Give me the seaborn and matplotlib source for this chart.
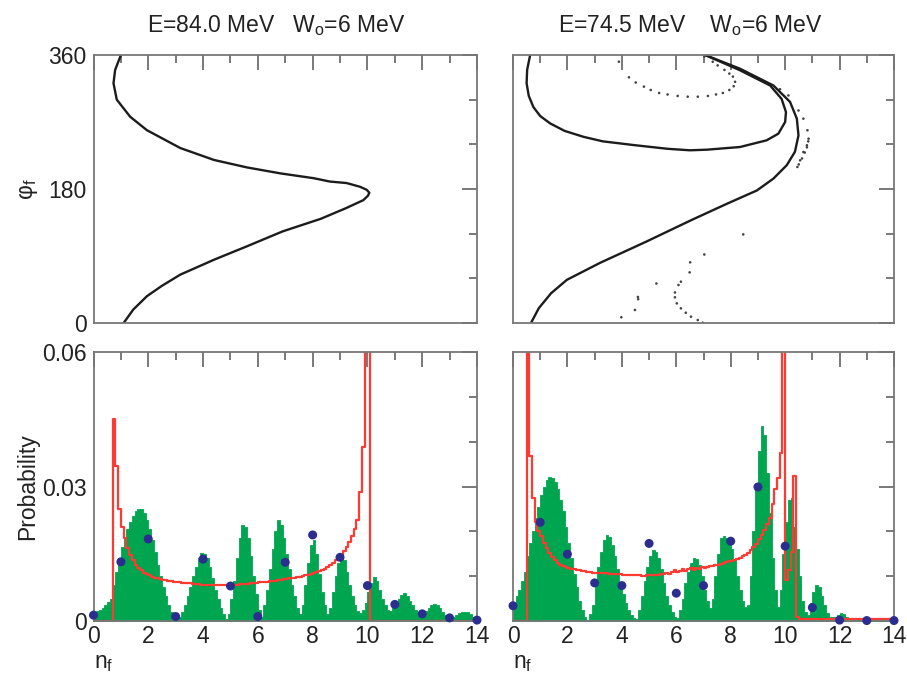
import numpy as np
import pandas as pd
import matplotlib
matplotlib.use("Agg")
import matplotlib.pyplot as plt
import seaborn as sns
from matplotlib.ticker import MultipleLocator, FixedLocator, FuncFormatter

# ---------------- data ----------------
# histogram grid (bin width 0.1 in n_f)
bin_width = 0.1
n_bins = 140

# top-left: phi_f vs n_f curve (E=84.0 MeV)
tl_phi = [0, 18, 36, 50, 65, 85, 103, 123, 140, 154, 165, 171, 175, 179, 183, 188, 190, 194.5, 201, 209, 219, 235, 259, 277, 300, 322, 340, 360]
tl_n = [1.1, 1.45, 1.95, 2.5, 3.17, 4.4, 5.6, 6.9, 8.3, 9.2, 9.85, 10.02, 10.07, 9.97, 9.73, 9.24, 8.63, 8.04, 6.82, 5.6, 4.4, 3.17, 1.95, 1.34, 0.85, 0.73, 0.79, 1.0]

# top-right: two branches (E=74.5 MeV)
tr_a_phi = [0, 20, 40, 58, 81, 109, 138, 160, 178, 194, 212, 230, 252, 274.5, 297, 319, 341.6, 360]
tr_a_n = [0.66, 0.95, 1.40, 1.98, 3.21, 4.88, 6.54, 7.85, 8.96, 9.57, 10.06, 10.36, 10.49, 10.43, 10.18, 9.57, 8.34, 7.06]
tr_b_phi = [360, 340, 322, 305, 290, 278, 268, 258, 250, 244, 239, 234, 232, 232.8, 236.4, 245.4, 254.3, 270, 283.4, 301, 319, 339.5, 360]
tr_b_n = [0.63, 0.52, 0.50, 0.58, 0.75, 1.0, 1.37, 1.9, 2.6, 3.3, 4.44, 5.68, 6.5, 7.12, 8.34, 9.32, 9.75, 10.0, 10.03, 9.87, 9.45, 8.34, 7.06]

# top-right: sparse dots
tr_dot_n = [3.89, 4.26, 4.51, 4.81, 5.06, 5.37, 5.68, 6.05, 6.42, 6.79, 7.16, 7.46, 7.71, 7.95, 8.11, 8.16, 8.08, 7.95, 7.77, 7.52, 7.34, 7.03,
            9.81, 10.12, 10.49, 10.67, 10.82, 10.86, 10.8, 10.67, 10.55, 10.45, 10.5, 10.62, 10.72, 10.8, 10.85,
            8.46,
            7.03, 6.51, 6.49, 6.17, 6.08, 5.95, 5.95, 6.02, 6.17, 6.35, 6.54, 6.79, 6.97,
            5.27, 4.59, 4.6, 4.48, 3.98]
tr_dot_phi = [351, 330, 323, 317.5, 313, 309, 307, 305, 304, 304, 305, 307, 309, 313, 318, 324, 331, 335, 340, 346, 351, 358,
              314, 305.7, 285.5, 274.5, 258.9, 247.6, 238.7, 229.7, 218.5, 209.6, 213, 221, 229, 236, 244,
              119,
              92, 81.5, 68, 55.5, 51, 41, 34.5, 26.4, 19.7, 13.8, 8.5, 4, 0.4,
              53, 35, 32, 17.5, 7.7]

# bottom-left histograms (probability per 0.1 bin, in units of 1e-3)
bl_green_milli = [
    2.0, 2.2, 2.5, 3.0, 3.5, 4.2, 5.0, 8.0, 11.0, 14.0,
    16.5, 18.5, 20.5, 22.0, 23.5, 24.5, 25.0, 25.0, 24.0, 22.5,
    20.5, 18.0, 15.5, 12.5, 10.0, 7.5, 5.5, 3.5, 2.0, 0.7,
    0.2, 0.8, 2.0, 3.5, 5.5, 7.5, 10.0, 12.0, 14.0, 15.2,
    15.0, 14.0, 12.0, 9.5, 7.0, 5.0, 3.0, 1.5, 0.5, 1.5,
    5.0, 9.0, 14.0, 18.5, 21.5, 21.0, 18.5, 14.5, 10.0, 6.0,
    2.5, 1.0, 3.5, 7.0, 11.5, 16.0, 20.0, 22.5, 21.5, 18.5,
    15.0, 11.5, 8.0, 5.5, 3.0, 1.5, 3.5, 8.0, 13.0, 17.0,
    18.0, 15.0, 10.5, 6.5, 3.5, 1.5, 3.0, 6.5, 10.0, 13.0,
    14.3, 13.5, 11.0, 8.0, 5.5, 3.5, 2.2, 1.8, 2.5, 4.0,
    6.5, 8.5, 9.8, 9.0, 7.0, 5.0, 3.5, 2.5, 2.3, 3.0,
    4.0, 5.0, 5.8, 6.2, 5.5, 4.5, 3.5, 2.5, 1.8, 1.4,
    1.5, 2.2, 3.0, 3.6, 3.8, 3.5, 2.8, 2.0, 1.4, 1.0,
    0.9, 1.0, 1.4, 1.8, 2.1, 2.1, 1.9, 1.5, 1.0, 0.5]
bl_red_milli = [
    0, 0, 0, 0, 0, 0, 0, 45, 34.5, 25,
    21, 18.5, 16.2, 14.8, 13.5, 12.5, 11.9, 11.3, 10.8, 10.5,
    10.2, 9.9, 9.7, 9.5, 9.3, 9.2, 9.1, 9.0, 8.9, 8.8,
    8.7, 8.6, 8.5, 8.5, 8.4, 8.4, 8.3, 8.2, 8.2, 8.1,
    8.1, 8.1, 8.0, 8.0, 8.0, 8.0, 8.0, 8.0, 8.0, 8.0,
    8.0, 8.1, 8.1, 8.2, 8.2, 8.3, 8.3, 8.4, 8.4, 8.5,
    8.6, 8.6, 8.7, 8.8, 8.9, 9.0, 9.0, 9.1, 9.2, 9.3,
    9.4, 9.5, 9.6, 9.7, 9.8, 9.9, 10.0, 10.2, 10.3, 10.5,
    10.7, 10.9, 11.1, 11.3, 11.6, 12.0, 12.5, 13.0, 13.6, 14.2,
    14.8, 15.6, 16.5, 17.6, 19.0, 20.5, 22.5, 28.8, 38.8, 70,
    90, 0, 0, 0, 0, 0, 0, 0, 0, 0,
    0, 0, 0, 0, 0, 0, 0, 0, 0, 0,
    0, 0, 0, 0, 0, 0, 0, 0, 0, 0,
    0, 0, 0, 0, 0, 0, 0, 0, 0, 0]
bl_dot_n = [0, 1, 2, 3, 4, 5, 6, 7, 8, 9, 10, 11, 12, 13, 14]
bl_dot_p = [0.0013, 0.0132, 0.0183, 0.0010, 0.0138, 0.0078, 0.0010, 0.0131, 0.0192, 0.0142, 0.0079, 0.0037, 0.0016, 0.0007, 0.0002]

# bottom-right histograms (units of 1e-3)
br_green_milli = [
    4.0, 5.5, 7.0, 9.0, 11.0, 14.5, 17.5, 20.0, 23.0, 25.5,
    28.0, 30.0, 31.5, 32.2, 32.0, 31.0, 29.5, 27.0, 24.5, 21.0,
    17.5, 14.0, 10.5, 7.5, 4.5, 2.5, 1.0, 0.3, 1.5, 3.5,
    8.0, 12.0, 15.5, 18.0, 19.2, 18.8, 17.0, 14.5, 11.5, 8.5,
    6.0, 4.0, 2.5, 1.3, 0.6, 0.5, 2.5, 5.5, 9.0, 12.0,
    14.5, 15.8, 15.5, 14.0, 11.5, 8.5, 5.5, 3.5, 2.0, 1.0,
    0.6, 2.5, 5.0, 8.5, 11.0, 13.0, 14.0, 13.8, 12.5, 10.0,
    7.0, 4.5, 3.0, 5.0, 10.0, 15.0, 18.5, 19.0, 18.5, 17.5,
    16.0, 13.5, 10.0, 7.0, 4.5, 3.2, 3.5, 10.0, 20.0, 30.0,
    38.0, 43.5, 41.5, 33.0, 24.0, 14.0, 7.0, 3.2, 7.0, 15.0,
    22.0, 27.0, 27.5, 21.0, 16.0, 10.0, 4.5, 2.0, 1.3, 4.0,
    6.5, 8.0, 7.5, 5.5, 3.5, 1.8, 1.0, 0.8, 1.0, 1.3,
    1.7, 1.5, 1.0, 0.7, 0.5, 0.5, 0.5, 0.5, 0.5, 0.5,
    0.5, 0.5, 0.5, 0.5, 0.5, 0.5, 0.5, 0.5, 0.5, 0.5]
br_red_milli = [
    0, 0, 0, 0, 0, 80, 36.7, 27.5, 22.0, 20.0,
    19.0, 17.5, 16.2, 15.2, 14.2, 13.5, 13.0, 12.5, 12.2, 12.0,
    11.8, 11.6, 11.5, 11.4, 11.3, 11.2, 11.1, 11.0, 10.9, 10.8,
    10.8, 10.7, 10.7, 10.6, 10.6, 10.5, 10.5, 10.4, 10.4, 10.4,
    10.3, 10.3, 10.3, 10.2, 10.2, 10.2, 10.2, 10.1, 10.1, 10.2,
    10.2, 10.2, 10.3, 10.3, 10.4, 10.4, 10.6, 10.4, 11.0, 11.3,
    10.9, 11.2, 11.5, 11.2, 11.6, 11.8, 11.4, 11.8, 11.6, 12.0,
    11.8, 12.0, 12.2, 12.3, 12.5, 12.6, 12.8, 13.0, 13.1, 13.3,
    13.4, 13.6, 13.8, 14.1, 14.4, 14.8, 15.2, 15.8, 16.4, 17.2,
    18.2, 19.2, 20.3, 21.6, 23.0, 26.0, 29.5, 32.0, 37.5, 80,
    9.1, 11.4, 15.5, 32.3, 0.8, 0.5, 0.5, 0.5, 0.5, 0.5,
    0.5, 0.5, 0.5, 0.5, 0.5, 0.5, 0.5, 0.5, 0.5, 0.5,
    0.5, 0.5, 0.5, 0.5, 0.5, 0.5, 0.5, 0.5, 0.5, 0.5,
    0.5, 0.5, 0.5, 0.5, 0.5, 0.5, 0.5, 0.5, 0.5, 0.5]
br_dot_n = [0, 1, 2, 3, 4, 5, 6, 7, 8, 9, 10, 11, 12, 13, 14]
br_dot_p = [0.0034, 0.0220, 0.0149, 0.0085, 0.0079, 0.0173, 0.0062, 0.0079, 0.0178, 0.0299, 0.0167, 0.0030, 0.0002, 0.0001, 0.0001]

titles = ["E=84.0 MeV   W$_o$=6 MeV", "E=74.5 MeV    W$_o$=6 MeV"]

# ---------------- style ----------------
sns.set_style("white")
plt.rcParams["font.family"] = ["Liberation Sans", "DejaVu Sans"]
plt.rcParams["mathtext.default"] = "regular"
plt.rcParams["text.color"] = "#222222"
plt.rcParams["axes.labelcolor"] = "#222222"
plt.rcParams["xtick.color"] = "#555555"
plt.rcParams["ytick.color"] = "#555555"
plt.rcParams["xtick.labelcolor"] = "#222222"
plt.rcParams["ytick.labelcolor"] = "#222222"

GREEN = "#00a54f"
RED = "#ff3a33"
BLUE = "#2c2e8f"
CURVE = "#1c1c1c"
FS = 16.5

# bin centres (one weighted observation per 0.1-wide bin)
centers = [round(i * bin_width + bin_width / 2, 3) for i in range(n_bins)]

fig = plt.figure(figsize=(9.07, 6.75), dpi=100)
W, H = 907.0, 675.0
def add_ax(x0, x1, y0, y1):
    return fig.add_axes([x0 / W, 1 - y1 / H, (x1 - x0) / W, (y1 - y0) / H])

ax_tl = add_ax(93.5, 477, 55, 323)
ax_tr = add_ax(513, 894, 55, 323)
ax_bl = add_ax(93.5, 477, 352, 621)
ax_br = add_ax(513, 894, 352, 621)

def style(ax, top_row, show_ylabels):
    ax.set_xlim(0, 14)
    ax.xaxis.set_major_locator(MultipleLocator(2))
    ax.xaxis.set_minor_locator(MultipleLocator(1))
    if top_row:
        ax.set_ylim(0, 360)
        ax.yaxis.set_major_locator(FixedLocator([0, 180, 360]))
        ax.yaxis.set_minor_locator(FixedLocator([60, 120, 240, 300]))
    else:
        ax.set_ylim(0, 0.06)
        ax.yaxis.set_major_locator(FixedLocator([0, 0.03, 0.06]))
        ax.yaxis.set_minor_locator(FixedLocator([0.01, 0.02, 0.04, 0.05]))
        ax.yaxis.set_major_formatter(FuncFormatter(lambda v, p: "0" if abs(v) < 1e-9 else f"{v:.2f}"))
    ax.tick_params(which="both", direction="in", top=True, right=True, width=1.1, labelsize=FS)
    ax.tick_params(which="major", length=11, pad=5)
    ax.tick_params(which="minor", length=6)
    ax.tick_params(axis="x", labelbottom=not top_row, pad=3)
    ax.tick_params(axis="y", labelleft=show_ylabels)
    for s in ax.spines.values():
        s.set_visible(True)
        s.set_color("#777777")
        s.set_linewidth(1.3)
    ax.set_xlabel("")
    ax.set_ylabel("")

# top-left
df_tl = pd.DataFrame({"n": tl_n, "phi": tl_phi})
sns.lineplot(data=df_tl, x="n", y="phi", sort=False, estimator=None, color=CURVE, lw=1.7,
             solid_joinstyle="round", ax=ax_tl)

# top-right
df_tr = pd.DataFrame({
    "n": tr_a_n + tr_b_n,
    "phi": tr_a_phi + tr_b_phi,
    "branch": ["a"] * len(tr_a_n) + ["b"] * len(tr_b_n),
})
sns.lineplot(data=df_tr, x="n", y="phi", units="branch", sort=False, estimator=None, color=CURVE, lw=1.7,
             solid_joinstyle="round", ax=ax_tr)
df_dots = pd.DataFrame({"n": tr_dot_n, "phi": tr_dot_phi})
sns.scatterplot(data=df_dots, x="n", y="phi", s=3.5, color="#444444", edgecolor="none", linewidth=0, ax=ax_tr)

# bottom panels
for ax, g, r, dn, dp in [(ax_bl, bl_green_milli, bl_red_milli, bl_dot_n, bl_dot_p),
                         (ax_br, br_green_milli, br_red_milli, br_dot_n, br_dot_p)]:
    df_h = pd.DataFrame({"n": centers,
                         "green": np.array(g) / 1000.0,
                         "red": np.array(r) / 1000.0})
    sns.histplot(data=df_h, x="n", weights="green", binwidth=bin_width, binrange=(0, 14),
                 element="step", fill=True, color=GREEN, alpha=1.0,
                 edgecolor=GREEN, linewidth=0.6, ax=ax)
    sns.histplot(data=df_h, x="n", weights="red", binwidth=bin_width, binrange=(0, 14),
                 element="step", fill=False, color=RED, linewidth=1.6, ax=ax)
    df_d = pd.DataFrame({"n": dn, "p": dp})
    sns.scatterplot(data=df_d, x="n", y="p", s=42, color=BLUE, edgecolor="none", zorder=5, ax=ax, clip_on=False)

style(ax_tl, True, True)
style(ax_tr, True, False)
style(ax_bl, False, True)
style(ax_br, False, False)

ax_tl.set_ylabel("φ$_f$", fontsize=FS, labelpad=6)
ax_bl.set_ylabel("Probability", fontsize=FS, labelpad=2)
for ax in (ax_bl, ax_br):
    ax.set_xlabel("n$_f$", fontsize=FS, loc="left", labelpad=2)

ax_tl.text(0.476, 1.086, titles[0], transform=ax_tl.transAxes, ha="center", va="baseline", fontsize=FS)
ax_tr.text(0.466, 1.086, titles[1], transform=ax_tr.transAxes, ha="center", va="baseline", fontsize=FS)

fig.savefig("out.png", dpi=100, facecolor="white")
